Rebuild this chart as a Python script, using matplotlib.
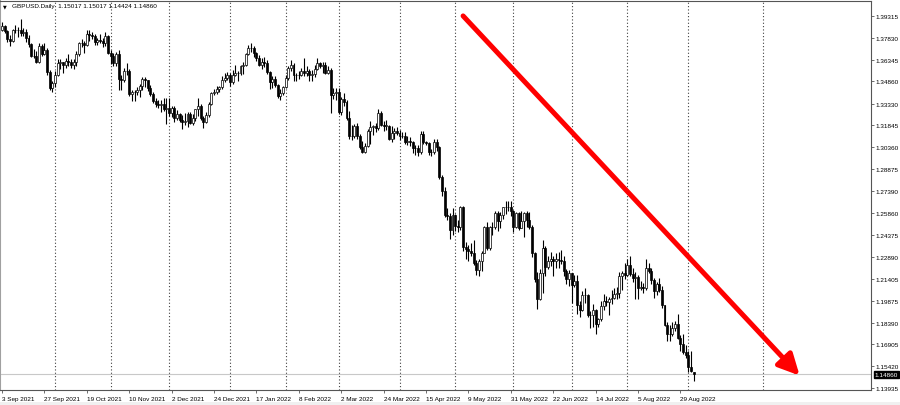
import matplotlib
matplotlib.use("Agg")
import matplotlib.pyplot as plt
import numpy as np
import pandas as pd

# ---------------- data ----------------
dates = pd.bdate_range("2021-09-03", "2022-09-05")

opens = [
    # Sep 2021
    1.3838, 1.3865, 1.3828, 1.3772, 1.3761, 1.3836, 1.3836, 1.3835, 1.3813, 1.3819,
    1.3783, 1.3740, 1.3659, 1.3660, 1.3620, 1.3730, 1.3672, 1.3699, 1.3547, 1.3437,
    # Oct 2021
    1.3474, 1.3532, 1.3613, 1.3618, 1.3594, 1.3623, 1.3618, 1.3600, 1.3615, 1.3675,
    1.3745, 1.3746, 1.3736, 1.3812, 1.3800, 1.3796, 1.3753, 1.3765, 1.3760, 1.3745,
    1.3796,
    # Nov 2021
    1.3681, 1.3656, 1.3609, 1.3670, 1.3500, 1.3496, 1.3557, 1.3557, 1.3396, 1.3415,
    1.3416, 1.3425, 1.3453, 1.3500, 1.3497, 1.3439, 1.3399, 1.3354, 1.3334, 1.3325,
    1.3334, 1.3297,
    # Dec 2021
    1.3301, 1.3269, 1.3301, 1.3235, 1.3266, 1.3223, 1.3210, 1.3212, 1.3266, 1.3201,
    1.3234, 1.3295, 1.3320, 1.3233, 1.3211, 1.3257, 1.3330, 1.3405, 1.3410, 1.3436,
    1.3448, 1.3498, 1.3511,
    # Jan 2022
    1.3532, 1.3479, 1.3532, 1.3546, 1.3540, 1.3590, 1.3597, 1.3673, 1.3716, 1.3715,
    1.3677, 1.3645, 1.3600, 1.3618, 1.3608, 1.3550, 1.3483, 1.3500, 1.3464, 1.3387,
    1.3405,
    # Feb 2022
    1.3447, 1.3510, 1.3575, 1.3596, 1.3531, 1.3528, 1.3531, 1.3559, 1.3546, 1.3556,
    1.3529, 1.3536, 1.3571, 1.3614, 1.3591, 1.3596, 1.3545, 1.3566, 1.3394, 1.3405,
    # Mar 2022
    1.3414, 1.3275, 1.3364, 1.3344, 1.3239, 1.3113, 1.3110, 1.3181, 1.3116, 1.3035,
    1.3004, 1.3043, 1.3147, 1.3173, 1.3180, 1.3167, 1.3271, 1.3191, 1.3184, 1.3184,
    1.3094, 1.3134, 1.3150,
    # Apr 2022
    1.3136, 1.3110, 1.3111, 1.3072, 1.3076, 1.3070, 1.3030, 1.3030, 1.3001, 1.3127,
    1.3069, 1.3066, 1.3002, 1.3005, 1.3070, 1.3036, 1.2836, 1.2735, 1.2573, 1.2567,
    1.2471,
    # May 2022
    1.2573, 1.2497, 1.2494, 1.2625, 1.2353, 1.2340, 1.2330, 1.2317, 1.2246, 1.2196,
    1.2259, 1.2317, 1.2491, 1.2351, 1.2489, 1.2489, 1.2586, 1.2533, 1.2577, 1.2626,
    1.2625, 1.2631,
    # Jun 2022
    1.2600, 1.2490, 1.2588, 1.2488, 1.2530, 1.2586, 1.2537, 1.2489, 1.2313, 1.2135,
    1.2003, 1.2181, 1.2349, 1.2221, 1.2261, 1.2275, 1.2262, 1.2271, 1.2265, 1.2262,
    1.2192, 1.2135,
    # Jul 2022
    1.2177, 1.2097, 1.2122, 1.1958, 1.1924, 1.2028, 1.2031, 1.1893, 1.1892, 1.1925,
    1.1828, 1.1863, 1.1954, 1.1989, 1.1978, 1.2004, 1.2005, 1.2037, 1.2040, 1.2157,
    1.2180,
    # Aug 2022
    1.2163, 1.2236, 1.2170, 1.2141, 1.2148, 1.2076, 1.2080, 1.2075, 1.2213, 1.2190,
    1.2131, 1.2058, 1.2105, 1.2061, 1.1957, 1.1826, 1.1765, 1.1762, 1.1800, 1.1830,
    1.1737, 1.1695, 1.1636,
    # Sep 2022
    1.1621, 1.1540, 1.15017,
]

highs = [
    1.3891, 1.3873, 1.3838, 1.3802, 1.3845, 1.3868, 1.3855, 1.3913, 1.3848, 1.3843,
    1.3802, 1.3748, 1.3704, 1.3695, 1.3750, 1.3740, 1.3749, 1.3716, 1.3565, 1.3485,
    1.3556, 1.3640, 1.3635, 1.3620, 1.3642, 1.3673, 1.3640, 1.3640, 1.3693, 1.3755,
    1.3772, 1.3760, 1.3833, 1.3834, 1.3822, 1.3812, 1.3784, 1.3812, 1.3780, 1.3825,
    1.3804,
    1.3702, 1.3678, 1.3685, 1.3698, 1.3530, 1.3575, 1.3608, 1.3572, 1.3425, 1.3428,
    1.3445, 1.3468, 1.3514, 1.3513, 1.3498, 1.3460, 1.3415, 1.3374, 1.3361, 1.3360,
    1.3373, 1.3370,
    1.3370, 1.3319, 1.3318, 1.3293, 1.3273, 1.3258, 1.3269, 1.3275, 1.3279, 1.3265,
    1.3300, 1.3375, 1.3329, 1.3246, 1.3275, 1.3345, 1.3415, 1.3436, 1.3453, 1.3457,
    1.3520, 1.3545, 1.3548,
    1.3545, 1.3560, 1.3599, 1.3559, 1.3599, 1.3616, 1.3679, 1.3733, 1.3748, 1.3727,
    1.3687, 1.3665, 1.3646, 1.3654, 1.3628, 1.3557, 1.3521, 1.3525, 1.3470, 1.3431,
    1.3453,
    1.3527, 1.3587, 1.3628, 1.3613, 1.3546, 1.3555, 1.3578, 1.3644, 1.3588, 1.3568,
    1.3563, 1.3598, 1.3643, 1.3620, 1.3620, 1.3615, 1.3592, 1.3575, 1.3442, 1.3437,
    1.3438, 1.3376, 1.3405, 1.3360, 1.3280, 1.3187, 1.3195, 1.3200, 1.3127, 1.3082,
    1.3062, 1.3158, 1.3215, 1.3187, 1.3201, 1.3298, 1.3286, 1.3215, 1.3224, 1.3188,
    1.3183, 1.3165, 1.3172,
    1.3155, 1.3143, 1.3138, 1.3115, 1.3108, 1.3081, 1.3054, 1.3049, 1.3148, 1.3150,
    1.3082, 1.3075, 1.3021, 1.3090, 1.3092, 1.3046, 1.2850, 1.2768, 1.2620, 1.2588,
    1.2620,
    1.2580, 1.2542, 1.2638, 1.2637, 1.2390, 1.2366, 1.2386, 1.2400, 1.2265, 1.2276,
    1.2330, 1.2500, 1.2525, 1.2500, 1.2526, 1.2598, 1.2599, 1.2592, 1.2630, 1.2668,
    1.2666, 1.2666,
    1.2610, 1.2597, 1.2597, 1.2599, 1.2597, 1.2598, 1.2594, 1.2504, 1.2320, 1.2185,
    1.2207, 1.2406, 1.2363, 1.2296, 1.2324, 1.2295, 1.2315, 1.2323, 1.2333, 1.2293,
    1.2208, 1.2197,
    1.2179, 1.2166, 1.2164, 1.1985, 1.2058, 1.2077, 1.2034, 1.1920, 1.1967, 1.1930,
    1.1874, 1.1988, 1.2033, 1.2018, 1.2012, 1.2064, 1.2075, 1.2080, 1.2183, 1.2193,
    1.2246,
    1.2276, 1.2293, 1.2210, 1.2188, 1.2165, 1.2125, 1.2111, 1.2277, 1.2249, 1.2212,
    1.2145, 1.2120, 1.2146, 1.2090, 1.1963, 1.1841, 1.1822, 1.1843, 1.1854, 1.1900,
    1.1757, 1.1761, 1.1690,
    1.1646, 1.1648, 1.15017,
]

lows = [
    1.3826, 1.3816, 1.3757, 1.3726, 1.3756, 1.3818, 1.3785, 1.3794, 1.3792, 1.3754,
    1.3718, 1.3652, 1.3648, 1.3610, 1.3612, 1.3661, 1.3663, 1.3528, 1.3425, 1.3412,
    1.3449, 1.3525, 1.3573, 1.3545, 1.3580, 1.3593, 1.3575, 1.3572, 1.3590, 1.3661,
    1.3719, 1.3680, 1.3725, 1.3763, 1.3772, 1.3735, 1.3735, 1.3745, 1.3722, 1.3730,
    1.3671,
    1.3607, 1.3587, 1.3590, 1.3425, 1.3424, 1.3478, 1.3530, 1.3384, 1.3353, 1.3353,
    1.3390, 1.3382, 1.3424, 1.3449, 1.3419, 1.3387, 1.3341, 1.3314, 1.3306, 1.3277,
    1.3285, 1.3194,
    1.3248, 1.3244, 1.3209, 1.3222, 1.3205, 1.3160, 1.3190, 1.3175, 1.3196, 1.3191,
    1.3218, 1.3252, 1.3224, 1.3170, 1.3199, 1.3240, 1.3325, 1.3392, 1.3400, 1.3410,
    1.3432, 1.3484, 1.3497,
    1.3456, 1.3470, 1.3524, 1.3491, 1.3526, 1.3536, 1.3589, 1.3665, 1.3688, 1.3654,
    1.3623, 1.3588, 1.3571, 1.3585, 1.3538, 1.3436, 1.3440, 1.3450, 1.3372, 1.3358,
    1.3394,
    1.3438, 1.3496, 1.3555, 1.3486, 1.3487, 1.3500, 1.3521, 1.3525, 1.3522, 1.3488,
    1.3491, 1.3514, 1.3565, 1.3575, 1.3541, 1.3536, 1.3533, 1.3272, 1.3363, 1.3359,
    1.3260, 1.3258, 1.3320, 1.3220, 1.3090, 1.3087, 1.3100, 1.3093, 1.3022, 1.2999,
    1.2999, 1.3036, 1.3057, 1.3118, 1.3142, 1.3156, 1.3180, 1.3150, 1.3157, 1.3085,
    1.3070, 1.3092, 1.3120,
    1.3083, 1.3097, 1.3058, 1.3050, 1.3046, 1.3000, 1.2982, 1.2973, 1.2990, 1.3058,
    1.3051, 1.2982, 1.2974, 1.2990, 1.3012, 1.2822, 1.2701, 1.2560, 1.2542, 1.2410,
    1.2440,
    1.2465, 1.2460, 1.2470, 1.2325, 1.2276, 1.2260, 1.2291, 1.2236, 1.2165, 1.2155,
    1.2194, 1.2313, 1.2338, 1.2338, 1.2435, 1.2479, 1.2467, 1.2484, 1.2545, 1.2584,
    1.2599, 1.2567,
    1.2460, 1.2484, 1.2470, 1.2482, 1.2427, 1.2494, 1.2475, 1.2290, 1.2118, 1.1934,
    1.1991, 1.2042, 1.2161, 1.2203, 1.2226, 1.2161, 1.2210, 1.2215, 1.2242, 1.2161,
    1.2106, 1.2090,
    1.1976, 1.2085, 1.1899, 1.1876, 1.1918, 1.1975, 1.1875, 1.1806, 1.1807, 1.1760,
    1.1808, 1.1854, 1.1925, 1.1952, 1.1889, 1.1965, 1.2003, 1.2002, 1.2007, 1.2062,
    1.2134,
    1.2155, 1.2156, 1.2114, 1.2004, 1.2004, 1.2060, 1.2044, 1.2064, 1.2176, 1.2102,
    1.2006, 1.2025, 1.2049, 1.1939, 1.1818, 1.1716, 1.1717, 1.1749, 1.1779, 1.1726,
    1.1648, 1.1625, 1.1600,
    1.1500, 1.1500, 1.14424,
]

closes = [
    1.3865, 1.3828, 1.3772, 1.3761, 1.3836, 1.3836, 1.3835, 1.3813, 1.3819, 1.3783,
    1.3740, 1.3659, 1.3660, 1.3620, 1.3730, 1.3672, 1.3699, 1.3547, 1.3437, 1.3474,
    1.3532, 1.3613, 1.3618, 1.3594, 1.3623, 1.3618, 1.3600, 1.3615, 1.3675, 1.3745,
    1.3746, 1.3736, 1.3812, 1.3800, 1.3796, 1.3753, 1.3765, 1.3760, 1.3745, 1.3796,
    1.3681,
    1.3656, 1.3609, 1.3670, 1.3500, 1.3496, 1.3557, 1.3557, 1.3396, 1.3415, 1.3416,
    1.3425, 1.3453, 1.3500, 1.3497, 1.3439, 1.3399, 1.3354, 1.3334, 1.3325, 1.3334,
    1.3297, 1.3301,
    1.3269, 1.3301, 1.3235, 1.3266, 1.3223, 1.3210, 1.3212, 1.3266, 1.3201, 1.3234,
    1.3295, 1.3320, 1.3233, 1.3211, 1.3257, 1.3330, 1.3405, 1.3410, 1.3436, 1.3448,
    1.3498, 1.3511, 1.3532,
    1.3479, 1.3532, 1.3546, 1.3540, 1.3590, 1.3597, 1.3673, 1.3716, 1.3715, 1.3677,
    1.3645, 1.3600, 1.3618, 1.3608, 1.3550, 1.3483, 1.3500, 1.3464, 1.3387, 1.3405,
    1.3447,
    1.3510, 1.3575, 1.3596, 1.3531, 1.3528, 1.3531, 1.3559, 1.3546, 1.3556, 1.3529,
    1.3536, 1.3571, 1.3614, 1.3591, 1.3596, 1.3545, 1.3566, 1.3394, 1.3405, 1.3414,
    1.3275, 1.3364, 1.3344, 1.3239, 1.3113, 1.3110, 1.3181, 1.3116, 1.3035, 1.3004,
    1.3043, 1.3147, 1.3173, 1.3180, 1.3167, 1.3271, 1.3191, 1.3184, 1.3184, 1.3094,
    1.3134, 1.3150, 1.3136,
    1.3110, 1.3111, 1.3072, 1.3076, 1.3070, 1.3030, 1.3030, 1.3001, 1.3127, 1.3069,
    1.3066, 1.3002, 1.3005, 1.3070, 1.3036, 1.2836, 1.2735, 1.2573, 1.2567, 1.2471,
    1.2573,
    1.2497, 1.2494, 1.2625, 1.2353, 1.2340, 1.2330, 1.2317, 1.2246, 1.2196, 1.2259,
    1.2317, 1.2491, 1.2351, 1.2489, 1.2489, 1.2586, 1.2533, 1.2577, 1.2626, 1.2625,
    1.2631, 1.2600,
    1.2490, 1.2588, 1.2488, 1.2530, 1.2586, 1.2537, 1.2489, 1.2313, 1.2135, 1.2003,
    1.2181, 1.2349, 1.2221, 1.2261, 1.2275, 1.2262, 1.2271, 1.2265, 1.2262, 1.2192,
    1.2135, 1.2177,
    1.2097, 1.2122, 1.1958, 1.1924, 1.2028, 1.2031, 1.1893, 1.1892, 1.1925, 1.1828,
    1.1863, 1.1954, 1.1989, 1.1978, 1.2004, 1.2005, 1.2037, 1.2040, 1.2157, 1.2180,
    1.2163,
    1.2236, 1.2170, 1.2141, 1.2148, 1.2076, 1.2080, 1.2075, 1.2213, 1.2190, 1.2131,
    1.2058, 1.2105, 1.2061, 1.1957, 1.1826, 1.1765, 1.1762, 1.1800, 1.1830, 1.1737,
    1.1695, 1.1636, 1.1621,
    1.1540, 1.1508, 1.14860,
]

price_ticks = [1.13935, 1.15420, 1.16905, 1.18390, 1.19875, 1.21405, 1.22890,
               1.24375, 1.25860, 1.27390, 1.28875, 1.30360, 1.31845, 1.33330,
               1.34860, 1.36345, 1.37830, 1.39315]
price_tick_labels = ["%.5f" % v for v in price_ticks]
current_price = 1.14860
title_text = "GBPUSD.Daily  1.15017 1.15017 1.14424 1.14860"
future_separator = pd.Timestamp("2022-10-01")

# trend arrow (bar index, price)
arrow_start = (174, 1.3932)
arrow_end = (301, 1.1478)

# ---------------- figure ----------------
o = np.array(opens); h = np.array(highs); l = np.array(lows); c = np.array(closes)
n = len(c)
x = np.arange(n)

W, H = 900, 406
fig = plt.figure(figsize=(W / 100, H / 100), dpi=100)
fig.patch.set_facecolor("white")
fig.patches.append(plt.Rectangle((0, 0), 1, 3 / H, transform=fig.transFigure,
                                 facecolor="#f0f0f0", edgecolor="none"))

ax_left, ax_right, ax_top, ax_bot = 0, 871, 2, 391
ax = fig.add_axes([ax_left / W, 1 - ax_bot / H, (ax_right - ax_left) / W,
                   (ax_bot - ax_top) / H])
ax.set_facecolor("white")

px_per_bar = 2.65
ax.set_xlim(-2 / px_per_bar, -2 / px_per_bar + (ax_right - ax_left) / px_per_bar)
k = (1.39315 - 1.13935) / (389 - 17)
ax.set_ylim(1.39315 - (ax_bot - 17) * k, 1.39315 + (17 - ax_top) * k)

# month separators (dotted grid)
month_first = [i for i in range(1, n) if dates[i].month != dates[i - 1].month]
future_pos = (n - 1) + (future_separator - dates[-1]).days
for m in month_first + [future_pos]:
    ax.axvline(m, color="#404040", lw=0.8, ls=(0, (1, 2)), zorder=1)

# current price line
ax.axhline(current_price, color="#c8c8c8", lw=0.8, zorder=1)

# candles
up = c >= o
ax.vlines(x, l, h, color="black", lw=0.8, zorder=2)
bw = 0.72
body_lo = np.minimum(o, c)
body_h = np.maximum(np.abs(c - o), 0.00012)
ax.bar(x[up], body_h[up], bottom=body_lo[up], width=bw, color="white",
       edgecolor="black", linewidth=0.5, zorder=3)
ax.bar(x[~up], body_h[~up], bottom=body_lo[~up], width=bw, color="black",
       edgecolor="black", linewidth=0.5, zorder=3)

# arrow
ax.annotate("", xy=arrow_end, xytext=arrow_start,
            arrowprops=dict(arrowstyle="-|>,head_length=0.9,head_width=0.45",
                            color="#ff0000", lw=3.6, shrinkA=0, shrinkB=0,
                            mutation_scale=14), zorder=5)

# axes styling
for s in ["left", "bottom", "top", "right"]:
    ax.spines[s].set_color("#555555")
    ax.spines[s].set_linewidth(0.8)
ax.spines["left"].set_color("#a0a0a0")
ax.spines["left"].set_linewidth(1.5)

font = "Liberation Sans"
fs = 4.6
ax.yaxis.tick_right()
ax.set_yticks(price_ticks)
ax.set_yticklabels(price_tick_labels, fontsize=fs, family=font)
ax.tick_params(axis="y", length=2.5, width=0.6, pad=1, color="#555555")

label_idx = list(range(0, n, 16))
label_txt = [f"{dates[i].day} {dates[i].strftime('%b %Y')}" for i in label_idx]
ax.set_xticks(label_idx)
ax.set_xticklabels(label_txt, fontsize=fs, family=font)
for t in ax.get_xticklabels():
    t.set_ha("left")
ax.tick_params(axis="x", length=2.5, width=0.6, pad=2, color="#555555")

# current price box
ax.text(1.004, current_price, "%.5f" % current_price, transform=ax.get_yaxis_transform(),
        ha="left", va="center", fontsize=fs, family=font, color="white",
        bbox=dict(boxstyle="square,pad=0.15", facecolor="black", edgecolor="black"),
        zorder=6, clip_on=False)

# title
ax.text(0.004, 0.995, "\u25BC", transform=ax.transAxes, ha="left", va="top",
        fontsize=3.5, family="DejaVu Sans", color="black")
ax.text(0.014, 0.995, title_text, transform=ax.transAxes, ha="left",
        va="top", fontsize=fs, family=font, color="black")

fig.savefig("out.png", dpi=100, facecolor="white")
